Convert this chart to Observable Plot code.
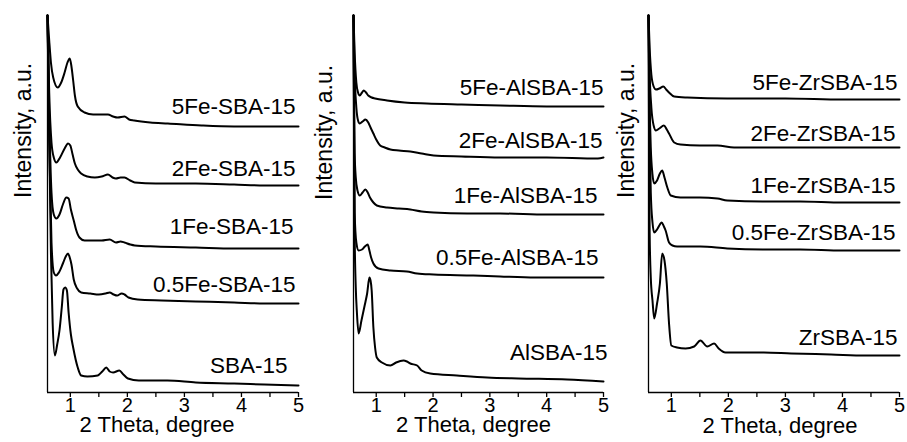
<!DOCTYPE html>
<html>
<head>
<meta charset="utf-8">
<script src="https://cdn.jsdelivr.net/npm/d3@7"></script>
<script src="https://cdn.jsdelivr.net/npm/@observablehq/plot@0.6"></script>
<style>
  html, body { margin: 0; padding: 0; background: #fff; }
  #wrap { position: relative; width: 907px; height: 442px; overflow: hidden; }
  #wrap > svg { position: absolute; top: 0; }
</style>
</head>
<body>
<div id="wrap"></div>
<script>
// ---------- data (2θ in degree, intensity in a.u. incl. stacking offset) ----------
const xTicks = [1, 1.5, 2, 2.5, 3, 3.5, 4, 4.5, 5];
const xTitle = "2 Theta, degree";
const yTitle = "Intensity, a.u.";

// Panel 1
const names1 = ["SBA-15", "0.5Fe-SBA-15", "1Fe-SBA-15", "2Fe-SBA-15", "5Fe-SBA-15"];
const SBA15 = [[0.6,377],[0.63,260],[0.66,140],[0.69,70],[0.73,37],[0.77,48],[0.81,62],[0.85,85],[0.88,103],[0.91,105],[0.94,102],[0.97,80],[1.01,58],[1.05,45],[1.13,25],[1.19,17],[1.3,16],[1.48,17],[1.56,21],[1.63,25],[1.69,21],[1.75,20],[1.86,22],[1.93,18],[2.01,14],[2.2,12],[2.7,12],[3.2,10],[3.87,9],[4.4,8],[5,7]];
const Fe05_SBA15 = [[0.6,377],[0.63,250],[0.67,150],[0.71,120],[0.75,117],[0.8,120],[0.87,129],[0.92,136],[0.96,139],[0.99,135],[1.02,128],[1.06,113],[1.12,104],[1.19,100],[1.35,99],[1.5,98],[1.62,99],[1.69,100],[1.76,98],[1.82,97],[1.9,99],[1.95,98],[2.02,95],[2.18,93],[2.6,92],[3.2,91],[3.87,90],[4.4,89],[5,89]];
const Fe1_SBA15 = [[0.6,377],[0.63,280],[0.67,200],[0.71,178],[0.755,174],[0.81,178],[0.87,188],[0.93,195],[0.97,194],[1.01,183],[1.06,172],[1.1,163],[1.16,155],[1.25,152],[1.4,152],[1.55,152],[1.69,153],[1.8,150],[1.88,151],[1.95,150],[2.05,148],[2.13,147],[2.5,146],[3.2,145],[3.87,144],[4.4,144],[5,144]];
const Fe2_SBA15 = [[0.6,377],[0.63,300],[0.67,250],[0.71,235],[0.755,230],[0.82,235],[0.9,244],[0.96,249],[1.0,247],[1.04,238],[1.08,229],[1.13,223],[1.19,219],[1.3,216],[1.43,215],[1.55,216],[1.66,218],[1.74,215],[1.8,214],[1.88,215],[1.95,215],[2.05,212],[2.13,210],[2.5,209],[3.2,209],[3.87,208],[4.4,207],[5,207]];
const Fe5_SBA15 = [[0.6,377],[0.63,352],[0.66,330],[0.7,315],[0.78,305],[0.84,310],[0.9,320],[0.95,330],[0.99,334],[1.02,326],[1.05,312],[1.08,297],[1.13,286],[1.25,280],[1.4,278],[1.55,278],[1.66,278],[1.75,276],[1.83,275],[1.95,276],[2.03,273],[2.12,272],[2.4,270],[2.71,269],[3.3,267],[3.87,266],[4.4,266],[5,266]];

// Panel 2
const names2 = ["AlSBA-15", "0.5Fe-AlSBA-15", "1Fe-AlSBA-15", "2Fe-AlSBA-15", "5Fe-AlSBA-15"];
const AlSBA15 = [[0.6,377],[0.61,250],[0.62,160],[0.64,105],[0.66,80],[0.69,59],[0.74,72],[0.8,88],[0.84,99],[0.88,115],[0.9,112],[0.92,102],[0.95,65],[0.98,45],[1.01,35],[1.1,30],[1.25,27],[1.35,30],[1.48,32],[1.54,31],[1.6,29],[1.72,27],[1.8,22],[1.95,19],[2.42,17],[2.95,15],[3.5,14],[4.36,13],[5,11]];
const Fe05_AlSBA15 = [[0.6,377],[0.61,280],[0.62,180],[0.65,150],[0.69,142],[0.75,143],[0.8,146],[0.85,148],[0.88,142],[0.91,135],[0.95,129],[1.04,124],[1.25,122],[1.54,121],[1.72,119],[2.01,118],[2.71,117],[3.18,116],[3.8,115],[4.36,115],[5,115]];
const Fe1_AlSBA15 = [[0.6,377],[0.61,300],[0.62,240],[0.64,215],[0.67,202],[0.71,197],[0.76,200],[0.81,203],[0.85,200],[0.89,195],[0.95,190],[1.01,187],[1.19,185],[1.4,184],[1.6,183],[1.8,181],[2.01,180],[2.6,179],[3.18,179],[4,178],[5,178]];
const Fe2_AlSBA15 = [[0.6,377],[0.62,320],[0.65,285],[0.68,272],[0.71,269],[0.76,271],[0.81,273],[0.86,270],[0.9,265],[0.95,259],[1.0,253],[1.07,247],[1.15,245],[1.25,243],[1.4,242],[1.6,241],[1.8,239],[2.01,237],[2.5,236],[3.18,235],[4,235],[4.9,234],[5,235]];
const Fe5_AlSBA15 = [[0.6,377],[0.62,340],[0.65,310],[0.68,300],[0.71,297],[0.75,300],[0.78,302],[0.82,300],[0.86,297],[0.92,295],[0.98,294],[1.19,292],[1.5,290],[1.89,289],[2.5,288],[3.18,287],[4,286],[5,286]];

// Panel 3
const names3 = ["ZrSBA-15", "0.5Fe-ZrSBA-15", "1Fe-ZrSBA-15", "2Fe-ZrSBA-15", "5Fe-ZrSBA-15"];
const ZrSBA15 = [[0.6,377],[0.61,250],[0.62,160],[0.64,115],[0.67,92],[0.7,74],[0.75,89],[0.8,109],[0.84,139],[0.88,132],[0.92,109],[0.96,69],[1.0,47],[1.1,45],[1.25,44],[1.4,46],[1.51,52],[1.63,46],[1.75,49],[1.83,44],[1.95,40],[2.62,40],[3.1,39],[3.8,38],[4.4,37],[5,37]];
const Fe05_ZrSBA15 = [[0.6,377],[0.62,260],[0.64,200],[0.67,170],[0.7,160],[0.75,163],[0.8,168],[0.83,170],[0.87,166],[0.9,162],[0.96,150],[1.02,147],[1.1,146],[1.51,146],[1.98,144],[2.6,143],[3.26,143],[4,142],[5,142]];
const Fe1_ZrSBA15 = [[0.6,377],[0.62,290],[0.64,245],[0.67,218],[0.7,209],[0.75,212],[0.8,219],[0.84,222],[0.88,215],[0.93,205],[0.99,197],[1.16,195],[1.5,195],[1.81,194],[1.98,192],[2.6,191],[3.26,191],[4,190],[5,190]];
const Fe2_ZrSBA15 = [[0.6,377],[0.62,320],[0.65,285],[0.69,267],[0.73,262],[0.79,264],[0.87,267],[0.92,263],[0.96,259],[1.05,250],[1.16,248],[1.5,247],[1.81,247],[2.1,245],[3,245],[4,245],[5,245]];
const Fe5_ZrSBA15 = [[0.6,377],[0.62,345],[0.65,318],[0.69,306],[0.73,303],[0.79,304],[0.86,306],[0.91,303],[0.96,300],[1.05,296],[1.28,295],[1.98,294],[3,294],[4,293],[5,293]];

const xDomain = [0.6, 5];
const yDomain = [0, 377];

// ---------- layout / style ----------
const FONT = "'Liberation Sans', Arial, sans-serif";
const panels = [
  { names: names1, series: [SBA15, Fe05_SBA15, Fe1_SBA15, Fe2_SBA15, Fe5_SBA15],
    left: 0, width: 310, mL: 47, mR: 12,
    nudge: [[-11,-20],[-3,-19],[-5,-22],[-3,-17],[-3,-20]],
    xtDx: -16, xtDy: 39.5, ytDx: -24, ytDy: -6 },
  { names: names2, series: [AlSBA15, Fe05_AlSBA15, Fe1_AlSBA15, Fe2_AlSBA15, Fe5_AlSBA15],
    left: 300, width: 310, mL: 53, mR: 7,
    nudge: [[4,-29],[-5,-20],[-6,-19],[-1,-17],[0,-19]],
    xtDx: -5, xtDy: 39.5, ytDx: -29, ytDy: -4 },
  { names: names3, series: [ZrSBA15, Fe05_ZrSBA15, Fe1_ZrSBA15, Fe2_ZrSBA15, Fe5_ZrSBA15],
    left: 600, width: 307, mL: 48, mR: 8,
    nudge: [[-2,-18],[-4,-18],[-4,-17],[-4,-14],[-2,-17]],
    xtDx: 6, xtDy: 40.5, ytDx: -22, ytDy: -6 }
];

const wrap = document.getElementById("wrap");
for (const p of panels) {
  const rows = [];
  p.series.forEach((s, i) => s.forEach(([x, y]) => rows.push({x, y, s: p.names[i]})));
  const labels = p.series.map((s, i) => ({name: p.names[i], x: s[s.length - 1][0], y: s[s.length - 1][1], i}));
  const labelMarks = labels.map(l => Plot.text([l], {
    x: "x", y: "y", text: "name", textAnchor: "end",
    dx: p.nudge[l.i][0], dy: p.nudge[l.i][1],
    fontSize: 22.5, fill: "black"
  }));
  const svg = Plot.plot({
    width: p.width, height: 442,
    marginLeft: p.mL, marginRight: p.mR, marginTop: 15, marginBottom: 50,
    style: {fontFamily: FONT, fontSize: "20px", color: "black", background: "transparent", overflow: "visible"},
    x: {domain: xDomain},
    y: {domain: yDomain, axis: null},
    marks: [
      Plot.axisX({ticks: xTicks, tickFormat: d => Number.isInteger(d) ? String(d) : "", tickSize: 5, tickPadding: 0, label: null, fontSize: 20, strokeWidth: 1.3}),
      Plot.ruleY([yDomain[0]], {stroke: "black", strokeWidth: 1.3}),
      Plot.ruleX([xDomain[0]], {stroke: "black", strokeWidth: 1.3}),
      Plot.line(rows, {x: "x", y: "y", z: "s", stroke: "black", strokeWidth: 2, curve: "monotone-x"}),
      ...labelMarks,
      Plot.text([xTitle], {frameAnchor: "bottom", dx: p.xtDx, dy: p.xtDy, fontSize: 22, fill: "black"}),
      Plot.text([yTitle], {frameAnchor: "left", rotate: -90, dx: p.ytDx, dy: p.ytDy, fontSize: 23, fill: "black"})
    ]
  });
  svg.style.left = p.left + "px";
  wrap.appendChild(svg);
}
</script>
</body>
</html>
